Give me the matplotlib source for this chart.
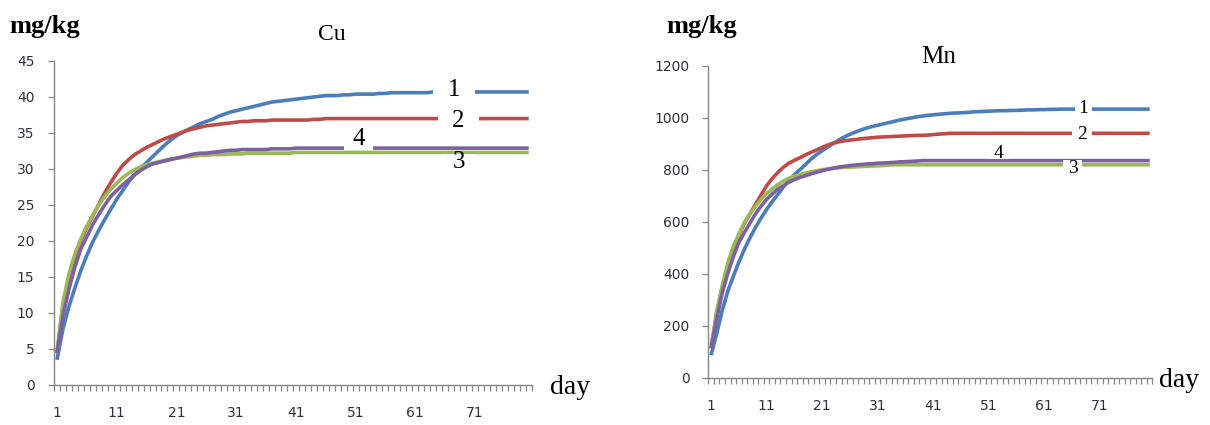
import matplotlib
matplotlib.use("Agg")
import matplotlib.pyplot as plt
from matplotlib.path import Path
from matplotlib.ticker import FixedLocator, NullFormatter

# ---------------- data ----------------
days = list(range(1, 81))
day_labels = [1, 11, 21, 31, 41, 51, 61, 71]
series_names = ["1", "2", "3", "4"]

cu_1 = [3.5, 7.8, 10.9, 13.5, 15.9, 18.0, 19.9, 21.5, 23.0, 24.4,
        25.8, 27.0, 28.2, 29.2, 30.1, 30.9, 31.7, 32.5, 33.3, 34.0,
        34.6, 35.1, 35.5, 35.9, 36.3, 36.6, 36.9, 37.3, 37.6, 37.9,
        38.1, 38.3, 38.5, 38.7, 38.9, 39.1, 39.3, 39.4, 39.5, 39.6,
        39.7, 39.8, 39.9, 40.0, 40.1, 40.2, 40.2, 40.2, 40.3, 40.3,
        40.4, 40.4, 40.4, 40.4, 40.5, 40.5, 40.6, 40.6, 40.6, 40.6,
        40.6, 40.6, 40.6, 40.7, 40.7, 40.7, 40.7, 40.7, 40.7, 40.7,
        40.7, 40.7, 40.7, 40.7, 40.7, 40.7, 40.7, 40.7, 40.7, 40.7]
cu_2 = [4.5, 11.0, 15.0, 17.8, 20.0, 21.9, 23.5, 25.1, 26.7, 28.1,
        29.4, 30.5, 31.3, 32.0, 32.5, 33.0, 33.4, 33.8, 34.2, 34.5,
        34.8, 35.1, 35.4, 35.6, 35.8, 36.0, 36.1, 36.2, 36.3, 36.4,
        36.5, 36.6, 36.6, 36.7, 36.7, 36.7, 36.8, 36.8, 36.8, 36.8,
        36.8, 36.8, 36.8, 36.9, 36.9, 37.0, 37.0, 37.0, 37.0, 37.0,
        37.0, 37.0, 37.0, 37.0, 37.0, 37.0, 37.0, 37.0, 37.0, 37.0,
        37.0, 37.0, 37.0, 37.0, 37.0, 37.0, 37.0, 37.0, 37.0, 37.0,
        37.0, 37.0, 37.0, 37.0, 37.0, 37.0, 37.0, 37.0, 37.0, 37.0]
cu_3 = [4.6, 11.5, 15.4, 18.2, 20.3, 22.1, 23.6, 25.0, 26.2, 27.2,
        28.0, 28.8, 29.4, 29.9, 30.3, 30.6, 30.8, 31.0, 31.2, 31.4,
        31.5, 31.6, 31.7, 31.8, 31.9, 31.9, 32.0, 32.0, 32.0, 32.1,
        32.1, 32.1, 32.2, 32.2, 32.2, 32.2, 32.2, 32.2, 32.2, 32.2,
        32.3, 32.3, 32.3, 32.3, 32.3, 32.3, 32.3, 32.3, 32.3, 32.3,
        32.3, 32.3, 32.3, 32.3, 32.3, 32.3, 32.3, 32.3, 32.3, 32.3,
        32.3, 32.3, 32.3, 32.3, 32.3, 32.3, 32.3, 32.3, 32.3, 32.3,
        32.3, 32.3, 32.3, 32.3, 32.3, 32.3, 32.3, 32.3, 32.3, 32.3]
cu_4 = [4.4, 9.6, 13.3, 16.4, 18.9, 20.6, 22.3, 23.7, 25.0, 26.2,
        27.0, 27.8, 28.5, 29.2, 29.8, 30.3, 30.7, 30.9, 31.1, 31.3,
        31.5, 31.7, 31.9, 32.1, 32.2, 32.2, 32.3, 32.4, 32.5, 32.6,
        32.6, 32.7, 32.7, 32.7, 32.7, 32.7, 32.8, 32.8, 32.8, 32.8,
        32.9, 32.9, 32.9, 32.9, 32.9, 32.9, 32.9, 32.9, 32.9, 32.9,
        32.9, 32.9, 32.9, 32.9, 32.9, 32.9, 32.9, 32.9, 32.9, 32.9,
        32.9, 32.9, 32.9, 32.9, 32.9, 32.9, 32.9, 32.9, 32.9, 32.9,
        32.9, 32.9, 32.9, 32.9, 32.9, 32.9, 32.9, 32.9, 32.9, 32.9]

mn_1 = [87, 168, 258, 332, 390, 444, 494, 538, 578, 614,
        647, 677, 704, 733, 758, 781, 800, 820, 841, 858,
        873, 887, 901, 914, 926, 936, 945, 953, 960, 966,
        971, 976, 981, 986, 991, 995, 999, 1003, 1006, 1009,
        1011, 1013, 1015, 1017, 1018, 1019, 1020, 1022, 1023, 1024,
        1025, 1026, 1027, 1027, 1028, 1028, 1029, 1030, 1030, 1031,
        1031, 1032, 1032, 1033, 1033, 1033, 1033, 1033, 1033, 1033,
        1033, 1033, 1033, 1033, 1033, 1033, 1033, 1033, 1033, 1033]
mn_2 = [113, 240, 345, 430, 497, 548, 593, 630, 667, 703,
        738, 766, 789, 809, 825, 836, 846, 857, 867, 876,
        886, 895, 902, 907, 911, 914, 916, 919, 921, 923,
        925, 926, 927, 928, 929, 930, 931, 932, 932, 933,
        935, 937, 938, 940, 940, 940, 940, 940, 940, 940,
        940, 940, 940, 940, 940, 940, 940, 940, 940, 940,
        940, 940, 940, 940, 940, 940, 940, 940, 940, 940,
        940, 940, 940, 940, 940, 940, 940, 940, 940, 940]
mn_3 = [119, 255, 355, 440, 505, 552, 597, 630, 660, 686,
        708, 726, 742, 756, 767, 775, 781, 787, 792, 796,
        800, 803, 805, 807, 809, 810, 811, 812, 813, 814,
        815, 816, 818, 819, 819, 819, 819, 819, 819, 819,
        819, 819, 819, 819, 819, 819, 819, 819, 819, 819,
        819, 819, 819, 819, 819, 819, 819, 819, 819, 819,
        819, 819, 819, 819, 819, 819, 819, 819, 819, 819,
        819, 819, 819, 819, 819, 819, 819, 819, 819, 819]
mn_4 = [113, 225, 325, 400, 465, 520, 558, 595, 630, 660,
        686, 706, 725, 738, 752, 762, 770, 777, 784, 790,
        796, 801, 806, 810, 813, 816, 818, 820, 822, 823,
        825, 826, 827, 828, 830, 831, 832, 833, 835, 835,
        835, 835, 835, 835, 835, 835, 835, 835, 835, 835,
        835, 835, 835, 835, 835, 835, 835, 835, 835, 835,
        835, 835, 835, 835, 835, 835, 835, 835, 835, 835,
        835, 835, 835, 835, 835, 835, 835, 835, 835, 835]

cu_yticks = [0, 5, 10, 15, 20, 25, 30, 35, 40, 45]
mn_yticks = [0, 200, 400, 600, 800, 1000, 1200]

colors = ["#4A7EBB", "#BE4B48", "#98B954", "#7D60A0"]

# ---------------- figure ----------------
W, H = 1210, 425
fig = plt.figure(figsize=(W / 100, H / 100), dpi=100)

SERIF = ["Liberation Serif", "DejaVu Serif"]
SANS = ["DejaVu Sans"]
AXC = "#868686"
TXC = "#30303a"


def px_rect(x0, x1, ytop, ybot):
    return [x0 / W, 1 - ybot / H, (x1 - x0) / W, (ybot - ytop) / H]


def gap_box(padx, pad_top, pad_bot):
    def style(x0, y0, width, height, mutation_size):
        x0 = x0 - padx
        width = width + 2 * padx
        y0 = y0 - pad_bot
        height = height + pad_top + pad_bot
        return Path([(x0, y0), (x0 + width, y0), (x0 + width, y0 + height),
                     (x0, y0 + height), (x0, y0)], closed=True)
    return style


def setup_axes(ax, yticks, ypad):
    ax.set_xlim(0.5, 80.5)
    ax.set_ylim(yticks[0], yticks[-1])
    for s in ("top", "right"):
        ax.spines[s].set_visible(False)
    for s in ("left", "bottom"):
        ax.spines[s].set_color(AXC)
        ax.spines[s].set_linewidth(1.0)
    ax.set_yticks(yticks)
    ax.set_yticklabels([str(v) for v in yticks], fontfamily=SANS, fontsize=10, color=TXC)
    ax.tick_params(axis="y", direction="out", length=4, width=0.9, color=AXC, pad=ypad)
    ax.set_xticks(day_labels)
    ax.set_xticklabels([str(d) for d in day_labels], fontfamily=SANS, fontsize=10, color=TXC)
    ax.tick_params(axis="x", which="major", length=0, pad=15)
    ax.xaxis.set_minor_locator(FixedLocator([d - 0.5 for d in days] + [80.5]))
    ax.xaxis.set_minor_formatter(NullFormatter())
    ax.tick_params(axis="x", which="minor", direction="out", length=4, width=0.9, color=AXC)
    ax.patch.set_alpha(0)


# Cu panel
ax1 = fig.add_axes(px_rect(54, 531.7, 61, 385))
for vals, c in zip([cu_1, cu_2, cu_3, cu_4], colors):
    ax1.plot(days, vals, color=c, lw=2.6, solid_capstyle="butt", zorder=3)
setup_axes(ax1, cu_yticks, 10)

cu_label_pos = {"1": (67.5, 41.0), "2": (68.2, 36.7), "4": (51.5, 34.1), "3": (68.3, 31.0)}
cu_label_box = {"1": (15, 0, 0), "2": (14, 0, 0), "4": (8, 0, 0), "3": (10, -3, 0)}
for name in series_names:
    x, y = cu_label_pos[name]
    ax1.text(x, y, name, ha="center", va="center", fontfamily=SERIF, fontsize=18,
             color="black", zorder=6,
             bbox=dict(boxstyle=gap_box(*cu_label_box[name]), fc="white", ec="none"))

# Mn panel
ax2 = fig.add_axes(px_rect(708.3, 1152.5, 65.7, 377.7))
for vals, c in zip([mn_1, mn_2, mn_3, mn_4], colors):
    ax2.plot(days, vals, color=c, lw=2.6, solid_capstyle="butt", zorder=3)
setup_axes(ax2, mn_yticks, 9.5)

mn_label_pos = {"1": (68.0, 1037), "2": (67.8, 935), "4": (52.8, 864), "3": (66.1, 806)}
mn_label_box = {"1": (3.5, 0, 0), "2": (5.5, 0, 0), "4": (5, 0, -3), "3": (5, 0, 0)}
for name in series_names:
    x, y = mn_label_pos[name]
    ax2.text(x, y, name, ha="center", va="center", fontfamily=SERIF, fontsize=14,
             color="black", zorder=6,
             bbox=dict(boxstyle=gap_box(*mn_label_box[name]), fc="white", ec="none"))

# titles and axis captions
def ftext(x, y, s, **kw):
    fig.text(x / W, 1 - y / H, s, fontfamily=SERIF, color="black", **kw)

ftext(9, 33, "mg/kg", fontsize=19, fontweight="bold", ha="left", va="baseline")
ftext(666, 33, "mg/kg", fontsize=19, fontweight="bold", ha="left", va="baseline")
ftext(332, 40, "Cu", fontsize=17, ha="center", va="baseline")
ftext(939, 63, "Mn", fontsize=18, ha="center", va="baseline")
ftext(550, 394, "day", fontsize=20, ha="left", va="baseline")
ftext(1159, 387, "day", fontsize=20, ha="left", va="baseline")

fig.savefig("out.png", dpi=100, facecolor="white")
